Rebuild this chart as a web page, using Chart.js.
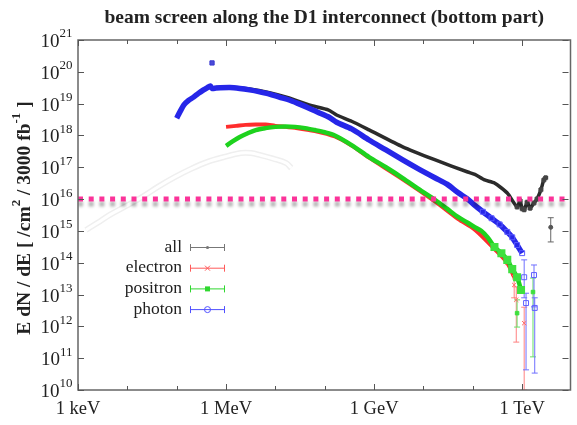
<!DOCTYPE html>
<html>
<head>
<meta charset="utf-8">
<script src="https://cdn.jsdelivr.net/npm/chart.js@4.4.1/dist/chart.umd.min.js"></script>
<style>
  html, body { margin: 0; padding: 0; background: #fff; }
  #wrap { width: 577px; height: 425px; }
</style>
</head>
<body>
<div id="wrap"><canvas id="c" width="577" height="425"></canvas></div>
<script>
// Energy axis values are in eV, flux in /cm^2 / 3000 fb^-1.

const xDecades = [1e3, 1e4, 1e5, 1e6, 1e7, 1e8, 1e9, 1e10, 1e11, 1e12];
const xLabelValues = [1e3, 1e6, 1e9, 1e12];
const xLabels = ['1 keV', '1 MeV', '1 GeV', '1 TeV'];
const yDecades = [1e10, 1e11, 1e12, 1e13, 1e14, 1e15, 1e16, 1e17, 1e18, 1e19, 1e20, 1e21];
const yExponents = ['10', '11', '12', '13', '14', '15', '16', '17', '18', '19', '20', '21'];

// all particles
const allE = [6.3e5, 1.2e6, 3.0e6, 7.6e6, 1.9e7, 4.8e7, 1.2e8, 1.74e8, 3.5e8, 7.9e8, 3.8e9, 1.74e10,
  7.9e10, 1.1e11, 1.74e11, 2.75e11, 5.0e11, 7.9e11, 9.1e11, 1.0e12, 1.1e12, 1.26e12, 1.45e12,
  1.74e12, 2.0e12, 2.4e12, 2.75e12, 3.0e12];
const allY = [3.2e19, 3.3e19, 2.9e19, 2.2e19, 1.5e19, 9.1e18, 6.3e18, 4.4e18, 2.8e18, 1.5e18, 4.4e17, 1.7e17,
  7.1e16, 6.0e16, 4.0e16, 3.2e16, 1.55e16, 5.6e15, 8.9e15, 5.0e15, 4.6e15, 7.9e15, 5.2e15,
  7.6e15, 1.0e16, 1.95e16, 4.0e16, 4.7e16];
const allLoneE = [3.8e12];
const allLoneY = [1.3e15];
const allLoneLo = [4.5e14];
const allLoneHi = [2.6e15];

// electrons
const electronE = [1.0e6, 1.6e6, 2.5e6, 4.0e6, 6.3e6, 1.0e7, 1.6e7, 2.5e7, 6.3e7, 1.6e8, 3.5e8, 7.9e8,
  3.8e9, 1.74e10, 5.0e10, 1.1e11, 2.75e11, 5.0e11, 6.9e11];
const electronY = [1.86e18, 2.0e18, 2.15e18, 2.2e18, 2.2e18, 2.0e18, 1.86e18, 1.74e18, 1.38e18, 9.3e17, 4.8e17, 2.0e17,
  4.2e16, 8.3e15, 2.4e15, 1.1e15, 2.7e14, 9.8e13, 3.5e13];
const electronErrE = [6.9e11, 7.6e11, 1.1e12];
const electronErrY = [2.0e13, 6.8e12, 1.26e12];
const electronErrLo = [7.9e12, 3.2e11, 1.0e10];
const electronErrHi = [4.0e13, 1.74e13, 4.0e12];

// positrons
const positronE = [1.0e6, 1.38e6, 1.9e6, 2.75e6, 4.0e6, 6.3e6, 1.0e7, 1.6e7, 2.5e7, 4.0e7, 6.3e7, 1.0e8, 1.6e8,
  3.5e8, 7.9e8, 1.74e9, 3.8e9, 7.9e9, 1.74e10, 3.0e10, 5.0e10, 7.9e10, 1.1e11, 1.5e11, 2.0e11,
  2.75e11, 3.8e11, 5.0e11, 6.3e11, 7.9e11, 9.5e11];
const positronY = [4.7e17, 6.6e17, 8.9e17, 1.17e18, 1.48e18, 1.7e18, 1.86e18, 1.9e18, 1.86e18, 1.7e18, 1.48e18, 1.26e18, 1.0e18,
  5.0e17, 2.1e17, 1.0e17, 4.6e16, 2.1e16, 9.3e15, 5.0e15, 2.75e15, 1.8e15, 1.3e15, 1.0e15, 6.3e14,
  3.1e14, 2.0e14, 1.23e14, 6.3e13, 3.5e13, 1.4e13];
const positronErrE = [7.9e11, 1.66e12];
const positronErrY = [2.6e12, 1.2e13];
const positronErrLo = [9.5e11, 1.1e11];
const positronErrHi = [6.8e12, 3.3e13];

// photons
const photonE = [1.0e5, 1.17e5, 1.4e5, 1.74e5, 2.2e5, 2.75e5, 3.5e5, 4.2e5, 4.8e5, 5.2e5, 6.3e5, 1.2e6, 1.9e6,
  3.0e6, 4.8e6, 7.6e6, 1.2e7, 1.9e7, 3.0e7, 4.8e7, 7.6e7, 1.2e8, 1.74e8, 3.5e8, 7.9e8, 1.74e9, 3.8e9,
  7.9e9, 1.74e10, 3.0e10, 5.0e10, 7.9e10, 1.1e11, 1.6e11, 2.4e11, 3.5e11, 5.0e11, 6.3e11, 7.9e11, 1.0e12];
const photonY = [3.5e18, 5.6e18, 9.1e18, 1.26e19, 1.6e19, 2.1e19, 2.7e19, 3.2e19, 3.6e19, 3.0e19, 3.1e19, 3.2e19, 3.0e19,
  2.7e19, 2.35e19, 2.0e19, 1.6e19, 1.3e19, 9.8e18, 7.2e18, 5.2e18, 3.8e18, 2.6e18, 1.6e18, 7.2e17, 3.5e17, 1.7e17,
  8.9e16, 4.6e16, 2.95e16, 1.6e16, 1.0e16, 6.3e15, 4.0e15, 2.5e15, 1.6e15, 9.3e14, 6.3e14, 3.6e14, 2.0e14];
const photonSpikeE = [5.2e5];
const photonSpikeY = [1.9e20];
const photonErrE = [1.1e12, 1.2e12, 1.74e12, 1.8e12];
const photonErrY = [3.5e13, 5.4e12, 4.1e13, 3.8e12];
const photonErrLo = [7.9e12, 4.3e10, 4.1e12, 3.4e10];
const photonErrHi = [1.23e14, 1.1e13, 8.5e13, 7.9e12];

// faint low-energy reference curve
const faintE = [1.45e3, 2.5e3, 4.4e3, 9.3e3, 2.0e4, 4.3e4, 9.1e4, 1.95e5, 4.2e5, 9.1e5, 2.0e6, 3.2e6,
  5.0e6, 9.1e6, 1.66e7, 2.1e7];
const faintY = [1.07e15, 1.8e15, 3.2e15, 6.0e15, 1.17e16, 2.5e16, 4.9e16, 8.9e16, 1.48e17, 2.1e17, 2.8e17, 2.8e17,
  2.4e17, 1.86e17, 1.35e17, 9.5e16];

// horizontal reference level
const thresholdE = [1e3, 1e13];
const thresholdY = [1e16, 1e16];

const legendNames = ['all', 'electron', 'positron', 'photon'];

const BLUE = '#2626e8', RED = '#ff2d2d', GREEN = '#1ed21e', BLACK = '#2b2b2b', PINK = '#fb3399';
const SERIF = '"Liberation Serif", "DejaVu Serif", serif';

function pts(xs, ys) { return xs.map((x, i) => ({ x: x, y: ys[i] })); }
function tailRadius(limit, r) {
  return ctx => (ctx.raw && ctx.raw.x > limit ? r : 0);
}

const datasets = [
  { data: pts(faintE, faintY), showLine: true, borderColor: '#efefef', borderWidth: 6,
    pointRadius: 0, tension: 0.35, order: 20 },
  { data: pts(faintE, faintY), showLine: true, borderColor: '#ffffff', borderWidth: 3,
    pointRadius: 0, tension: 0.35, order: 19 },
  { data: pts(allE, allY), showLine: true, borderColor: BLACK, borderWidth: 3.5,
    pointRadius: tailRadius(6e11, 2.5), pointStyle: 'cross', pointBorderColor: '#444',
    tension: 0.2, order: 10 },
  { data: pts(allLoneE, allLoneY), showLine: false, pointRadius: 2, pointStyle: 'circle',
    backgroundColor: '#555', borderColor: '#555', order: 10,
    errLo: allLoneLo, errHi: allLoneHi, errColor: '#666' },
  { data: pts(electronE, electronY), showLine: true, borderColor: RED, borderWidth: 4,
    pointRadius: tailRadius(2e11, 3), pointStyle: 'crossRot', pointBorderColor: '#ff6b6b',
    pointBorderWidth: 1, tension: 0.3, order: 8 },
  { data: pts(electronErrE, electronErrY), showLine: false, pointRadius: 3, pointStyle: 'crossRot',
    borderColor: '#ff6b6b', borderWidth: 1, order: 8,
    errLo: electronErrLo, errHi: electronErrHi, errColor: '#ff8080' },
  { data: pts(positronE, positronY), showLine: true, borderColor: GREEN, borderWidth: 4.5,
    pointRadius: tailRadius(2e11, 2.5), pointStyle: 'rect', pointBackgroundColor: '#3ee03e',
    pointBorderColor: '#3ee03e', tension: 0.3, order: 6 },
  { data: pts(positronErrE, positronErrY), showLine: false, pointRadius: 2.5, pointStyle: 'rect',
    backgroundColor: '#3ee03e', borderColor: '#3ee03e', order: 6,
    errLo: positronErrLo, errHi: positronErrHi, errColor: '#66e066' },
  { data: pts(photonE, photonY), showLine: true, borderColor: BLUE, borderWidth: 5.5,
    pointRadius: tailRadius(1.5e11, 3.5), pointStyle: 'rect', pointBackgroundColor: 'rgba(0,0,0,0)',
    pointBorderColor: '#5a5aff', pointBorderWidth: 1, tension: 0.25, order: 4 },
  { data: pts(photonSpikeE, photonSpikeY), showLine: false, pointRadius: 3, pointStyle: 'rect',
    backgroundColor: '#4b4bd8', borderColor: '#3a3ad0', order: 4 },
  { data: pts(photonErrE, photonErrY), showLine: false, pointRadius: 3.5, pointStyle: 'rect',
    backgroundColor: 'rgba(0,0,0,0)', borderColor: '#6060ff', borderWidth: 1, order: 4,
    errLo: photonErrLo, errHi: photonErrHi, errColor: '#7070ff' },
  { data: pts(thresholdE, thresholdY), showLine: true, borderColor: PINK, borderWidth: 5,
    borderDash: [5, 5.7], borderCapStyle: 'butt', pointRadius: 0, order: 0, shadow: true }
];

// vertical error bars with small caps
const errorBars = {
  id: 'errorBars',
  beforeDatasetsDraw(chart) {
    const { ctx, scales: { x, y }, chartArea: a } = chart;
    ctx.save();
    ctx.beginPath();
    ctx.rect(a.left, a.top, a.right - a.left, a.bottom - a.top);
    ctx.clip();
    chart.data.datasets.forEach(ds => {
      if (!ds.errLo) return;
      ctx.strokeStyle = ds.errColor;
      ctx.lineWidth = 1;
      ds.data.forEach((p, i) => {
        const px = x.getPixelForValue(p.x);
        const y1 = y.getPixelForValue(ds.errLo[i]);
        const y2 = y.getPixelForValue(ds.errHi[i]);
        ctx.beginPath();
        ctx.moveTo(px, y1); ctx.lineTo(px, y2);
        ctx.moveTo(px - 3, y1); ctx.lineTo(px + 3, y1);
        ctx.moveTo(px - 3, y2); ctx.lineTo(px + 3, y2);
        ctx.stroke();
      });
    });
    ctx.restore();
  }
};

// soft grey shadow under the dotted reference level
const lineShadow = {
  id: 'lineShadow',
  beforeDatasetDraw(chart, args) {
    if (!chart.data.datasets[args.index].shadow) return;
    const ctx = chart.ctx;
    ctx.save();
    ctx.shadowColor = 'rgba(0,0,0,0.3)';
    ctx.shadowBlur = 3;
    ctx.shadowOffsetY = 5;
  },
  afterDatasetDraw(chart, args) {
    if (!chart.data.datasets[args.index].shadow) return;
    chart.ctx.restore();
  }
};

// frame, inward ticks, tick labels, titles and key
const decor = {
  id: 'decor',
  afterDraw(chart) {
    const { ctx, chartArea: a, scales: { x, y } } = chart;
    ctx.save();
    // frame
    ctx.strokeStyle = '#666';
    ctx.lineWidth = 1.5;
    ctx.strokeRect(a.left, a.top, a.right - a.left + 2, a.bottom - a.top);
    // ticks
    ctx.strokeStyle = '#555';
    ctx.lineWidth = 1;
    ctx.beginPath();
    xDecades.forEach(v => {
      const px = Math.round(x.getPixelForValue(v)) + 0.5;
      const len = xLabelValues.includes(v) ? 6 : 4;
      ctx.moveTo(px, a.bottom); ctx.lineTo(px, a.bottom - len);
      ctx.moveTo(px, a.top); ctx.lineTo(px, a.top + len);
    });
    yDecades.forEach(v => {
      const py = Math.round(y.getPixelForValue(v)) + 0.5;
      ctx.moveTo(a.left, py); ctx.lineTo(a.left + 6, py);
      ctx.moveTo(a.right, py); ctx.lineTo(a.right - 6, py);
    });
    ctx.stroke();

    ctx.fillStyle = '#222';
    // y tick labels: 10^n
    yDecades.forEach((v, i) => {
      const py = y.getPixelForValue(v);
      ctx.font = '13px ' + SERIF;
      const ew = ctx.measureText(yExponents[i]).width;
      ctx.textBaseline = 'middle';
      ctx.textAlign = 'left';
      ctx.fillText(yExponents[i], 72.5 - ew, py - 6);
      ctx.font = '19px ' + SERIF;
      ctx.textAlign = 'right';
      ctx.fillText('10', 72.5 - ew, py + 2);
    });
    // x tick labels
    ctx.font = '18.5px ' + SERIF;
    ctx.textAlign = 'center';
    ctx.textBaseline = 'middle';
    xLabelValues.forEach((v, i) => {
      ctx.fillText(xLabels[i], x.getPixelForValue(v), 409);
    });

    // title
    ctx.font = 'bold 19.5px ' + SERIF;
    ctx.textAlign = 'center';
    ctx.textBaseline = 'middle';
    ctx.fillText('beam screen along the D1 interconnect (bottom part)', (a.left + a.right) / 2 + 1, 18);

    // y axis title with superscripts
    ctx.save();
    ctx.translate(25, (a.top + a.bottom) / 2 + 3);
    ctx.rotate(-Math.PI / 2);
    const parts = [
      ['E dN / dE [ /cm', false], ['2', true], [' / 3000 fb', false], ['-1', true], [' ]', false]
    ];
    const bigFont = 'bold 19.5px ' + SERIF, smallFont = 'bold 13px ' + SERIF;
    let total = 0;
    parts.forEach(p => {
      ctx.font = p[1] ? smallFont : bigFont;
      total += ctx.measureText(p[0]).width;
    });
    let cx = -total / 2;
    ctx.textAlign = 'left';
    ctx.textBaseline = 'middle';
    parts.forEach(p => {
      ctx.font = p[1] ? smallFont : bigFont;
      ctx.fillText(p[0], cx, p[1] ? -8 : 0);
      cx += ctx.measureText(p[0]).width;
    });
    ctx.restore();

    // key
    const keyColors = ['#777777', '#ff5a5a', '#2fd72f', '#5050ff'];
    const keyStyles = ['dot', 'x', 'square', 'openCircle'];
    ctx.font = '17.5px ' + SERIF;
    ctx.textAlign = 'right';
    ctx.textBaseline = 'middle';
    legendNames.forEach((name, i) => {
      const ky = 247 + i * 20.7;
      ctx.fillStyle = '#222';
      ctx.fillText(name, 182, ky);
      ctx.strokeStyle = keyColors[i];
      ctx.fillStyle = keyColors[i];
      ctx.lineWidth = 1;
      ctx.beginPath();
      ctx.moveTo(190, ky + 0.5); ctx.lineTo(225, ky + 0.5);
      ctx.moveTo(190.5, ky - 3); ctx.lineTo(190.5, ky + 4);
      ctx.moveTo(224.5, ky - 3); ctx.lineTo(224.5, ky + 4);
      ctx.stroke();
      const mx = 207.5, my = ky + 0.5;
      ctx.beginPath();
      if (keyStyles[i] === 'dot') {
        ctx.arc(mx, my, 1.6, 0, Math.PI * 2); ctx.fill();
      } else if (keyStyles[i] === 'x') {
        ctx.moveTo(mx - 2.5, my - 2.5); ctx.lineTo(mx + 2.5, my + 2.5);
        ctx.moveTo(mx + 2.5, my - 2.5); ctx.lineTo(mx - 2.5, my + 2.5);
        ctx.stroke();
      } else if (keyStyles[i] === 'square') {
        ctx.fillRect(mx - 2.5, my - 2.5, 5, 5);
      } else {
        ctx.arc(mx, my, 3, 0, Math.PI * 2); ctx.stroke();
      }
    });
    ctx.restore();
  }
};

new Chart(document.getElementById('c'), {
  type: 'scatter',
  data: { datasets: datasets },
  options: {
    responsive: false,
    animation: false,
    events: [],
    layout: { padding: { left: 78, right: 1, top: 40, bottom: 35 } },
    plugins: { legend: { display: false }, tooltip: { enabled: false }, title: { display: false } },
    scales: {
      x: { type: 'logarithmic', display: false, min: 1e3, max: 8.7e12 },
      y: { type: 'logarithmic', display: false, min: 1e10, max: 1e21 }
    }
  },
  plugins: [errorBars, lineShadow, decor]
});
</script>
</body>
</html>
